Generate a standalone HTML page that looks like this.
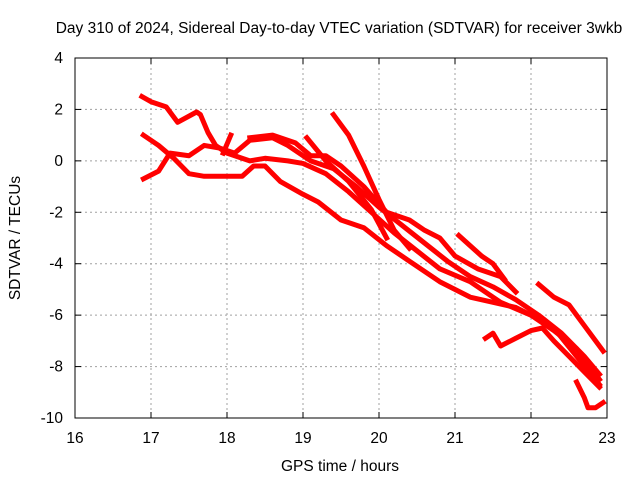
<!DOCTYPE html>
<html><head><meta charset="utf-8"><style>
body{margin:0;background:#fff;}
svg{display:block;font-family:"Liberation Sans",sans-serif;}
</style></head><body>
<svg id="chart" width="640" height="480" viewBox="0 0 640 480">
<rect width="640" height="480" fill="#fff"/>
<text x="339" y="33" font-size="15.5" text-anchor="middle">Day 310 of 2024, Sidereal Day-to-day VTEC variation (SDTVAR) for receiver 3wkb</text>
<text x="340" y="471" font-size="15.5" text-anchor="middle">GPS time / hours</text>
<text transform="translate(20,238) rotate(-90)" font-size="15.5" text-anchor="middle">SDTVAR / TECUs</text>
<g id="grid"></g><g id="series"></g><g id="axes"></g>
</svg>
<script>
const xTicks=[16,17,18,19,20,21,22,23];
const yTicks=[4,2,0,-2,-4,-6,-8,-10];
const s1=[[16.88,2.5],[17.0,2.3],[17.2,2.1],[17.35,1.5],[17.6,1.9],[17.65,1.8],[17.75,1.1],[17.85,0.6],[18.0,0.3],[18.3,0.0],[18.5,0.1],[18.8,0.0],[19.0,-0.1],[19.3,-0.5],[19.6,-1.2],[19.9,-2.0],[20.2,-2.8],[20.5,-3.5],[20.8,-4.2],[21.2,-4.7],[21.6,-5.5],[22.0,-6.0],[22.3,-6.6],[22.6,-7.3],[22.9,-8.5]];
const s2=[[16.9,1.0],[17.1,0.6],[17.3,0.1],[17.5,-0.5],[17.7,-0.6],[18.0,-0.6],[18.2,-0.6],[18.35,-0.2],[18.5,-0.2],[18.7,-0.8],[19.0,-1.3],[19.2,-1.6],[19.5,-2.3],[19.8,-2.6],[20.1,-3.3],[20.4,-3.9],[20.8,-4.7],[21.2,-5.3],[21.5,-5.5],[21.8,-5.7],[22.0,-6.0],[22.3,-6.5],[22.6,-7.6],[22.9,-8.7]];
const s3=[[16.9,-0.7],[17.1,-0.4],[17.25,0.3],[17.5,0.2],[17.7,0.6],[17.9,0.5],[18.1,0.3],[18.3,0.8],[18.6,0.9],[18.8,0.6],[19.1,0.0],[19.4,-0.3],[19.7,-1.0],[20.0,-1.8],[20.3,-2.5],[20.6,-3.2],[20.9,-3.9],[21.2,-4.5],[21.5,-4.9],[21.8,-5.4],[22.1,-6.0],[22.4,-6.7],[22.7,-7.6],[22.9,-8.3]];
const s4=[[18.3,0.9],[18.6,1.0],[18.9,0.7],[19.1,0.2],[19.3,0.2],[19.5,-0.2],[19.8,-1.0],[20.1,-2.0],[20.4,-2.3],[20.6,-2.7],[20.8,-3.0],[21.0,-3.7],[21.3,-4.2],[21.6,-4.5],[21.8,-5.1]];
const s5=[[19.4,1.8],[19.6,1.0],[19.8,-0.2],[20.0,-1.5],[20.2,-2.7],[20.4,-3.4]];
const s6=[[19.05,0.9],[19.3,0.0],[19.6,-0.8],[19.9,-1.9],[20.1,-3.0]];
const s7=[[17.95,0.3],[18.05,1.0]];
const s8=[[21.05,-2.9],[21.2,-3.3],[21.35,-3.7],[21.5,-4.0],[21.65,-4.6]];
const s9=[[22.1,-4.8],[22.3,-5.3],[22.5,-5.6],[22.7,-6.4],[22.95,-7.4]];
const s10=[[21.4,-6.9],[21.5,-6.7],[21.6,-7.2],[21.8,-6.9],[22.0,-6.6],[22.15,-6.5],[22.3,-7.0],[22.5,-7.6],[22.7,-8.2],[22.9,-8.8]];
const s11=[[22.6,-8.6],[22.7,-9.2],[22.75,-9.6],[22.85,-9.6],[22.95,-9.4]];
const allSeries=[s1,s2,s3,s4,s5,s6,s7,s8,s9,s10,s11];

const X0=75,X1=607,Y0=58,Y1=418,xmin=16,xmax=23,ymin=-10,ymax=4;
const sx=v=>X0+(v-xmin)/(xmax-xmin)*(X1-X0);
const sy=v=>Y1-(v-ymin)/(ymax-ymin)*(Y1-Y0);
const NS='http://www.w3.org/2000/svg';
function mk(t,a,p){const e=document.createElementNS(NS,t);for(const k in a)e.setAttribute(k,a[k]);p.appendChild(e);return e;}
const grid=document.getElementById('grid'),axes=document.getElementById('axes'),ser=document.getElementById('series');
xTicks.forEach(t=>{
 const x=sx(t);
 if(t>xmin&&t<xmax){const g=mk('line',{x1:x,y1:Y0,x2:x,y2:Y1,stroke:'#a0a0a0','stroke-dasharray':'2,3'},grid);
 
 }
 const tk=mk('line',{x1:x,y1:Y1,x2:x,y2:Y1-6,stroke:'#000'},axes);
 
 
 mk('line',{x1:x,y1:Y0,x2:x,y2:Y0+6,stroke:'#000'},axes);
 const l=mk('text',{x:x,y:Y1+25,'font-size':15.5,'text-anchor':'middle'},axes);l.textContent=t;
 
 
});
yTicks.forEach(t=>{
 const y=sy(t);
 if(t>ymin&&t<ymax){const g=mk('line',{x1:X0,y1:y,x2:X1,y2:y,stroke:'#a0a0a0','stroke-dasharray':'2,3'},grid);
 
 }
 const tk=mk('line',{x1:X0,y1:y,x2:X0+6,y2:y,stroke:'#000'},axes);
 
 
 mk('line',{x1:X1,y1:y,x2:X1-6,y2:y,stroke:'#000'},axes);
 const l=mk('text',{x:X0-12,y:y+5,'font-size':15.5,'text-anchor':'end'},axes);l.textContent=t;
 
 
});
const fr=mk('rect',{x:X0,y:Y0,width:X1-X0,height:Y1-Y0,fill:'none',stroke:'#000'},axes);


allSeries.forEach((s,i)=>{
 const p=mk('polyline',{points:s.map(d=>sx(d[0])+','+sy(d[1])).join(' '),fill:'none',stroke:'#ff0000','stroke-width':5,'stroke-linejoin':'round','stroke-linecap':'square'},ser);
 
 
});
</script>
</body></html>
